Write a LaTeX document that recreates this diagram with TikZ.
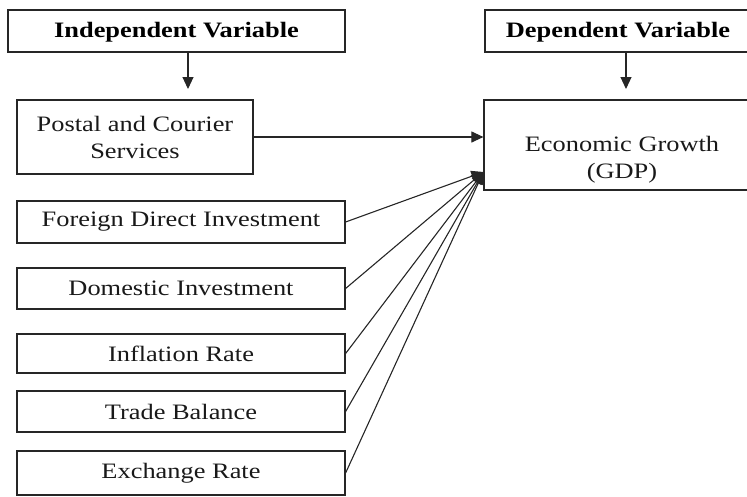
\documentclass[tikz,border=0pt]{standalone}
\usepackage{fontspec}
\setmainfont{Liberation Serif}[FakeStretch=1.2]
\usetikzlibrary{arrows.meta,calc}

\begin{document}
\begin{tikzpicture}[x=1pt,y=-1pt,
  box/.style={draw=black!85, line width=1.2pt, rectangle, inner sep=0pt},
  txt/.style={font=\fontsize{22}{27}\selectfont, text=black!90, align=center},
  head/.style={font=\fontsize{22}{27}\selectfont\bfseries, text=black},
  link/.style={draw=black!85, line width=1.1pt, -{Triangle[width=11pt,length=12pt]}}]

\useasboundingbox (0,0) rectangle (747,496);

% heading boxes
\node[box, minimum width=337pt, minimum height=42pt] (indep) at (176.5,31) {};
\node[head] (indeptext) at (176.5,32) {Independent Variable};
\node[box, minimum width=264pt, minimum height=42pt] (dep) at (617,31) {};
\node[head] (deptext) at (618,32) {Dependent Variable};

% explanatory variables
\node[box, txt, minimum width=236pt, minimum height=74pt] (postal) at (135,137) {Postal and Courier\\Services};
\node[box, txt, minimum width=328pt, minimum height=42pt] (fdi) at (181,222) {Foreign Direct Investment};
\node[box, txt, minimum width=328pt, minimum height=41pt] (dom) at (181,288.5) {Domestic Investment};
\node[box, txt, minimum width=328pt, minimum height=39pt] (infl) at (181,353.5) {Inflation Rate};
\node[box, txt, minimum width=328pt, minimum height=41pt] (trade) at (181,411.5) {Trade Balance};
\node[box, txt, minimum width=328pt, minimum height=44pt] (exch) at (181,473) {Exchange Rate};

% outcome
\node[box, minimum width=264pt, minimum height=90pt] (gdp) at (616,145) {};
\node[txt] (gdptext) at (622,160) {Economic Growth\\(GDP)};

% connectors
\coordinate (hub) at ([yshift=-27pt]gdp.west);
\coordinate (ia) at (188,52);
\coordinate (ib) at (188,89);
\coordinate (da) at (626,52);
\coordinate (db) at (626,89);
\draw[link] (ia) -- (ib);
\draw[link] (da) -- (db);
\draw[link] (postal.east) -- (postal.east -| gdp.west);
\foreach \n in {fdi,dom,infl,trade,exch}
  \draw[link] (\n.east) -- (hub);
\end{tikzpicture}
\end{document}
